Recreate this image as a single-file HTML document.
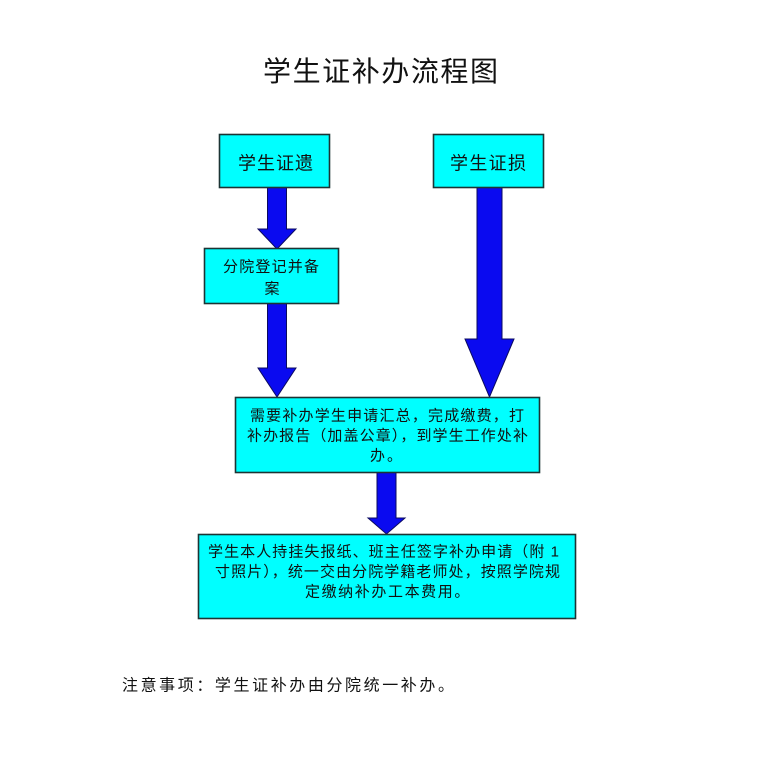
<!DOCTYPE html>
<html>
<head>
<meta charset="utf-8">
<style>
html,body{margin:0;padding:0;background:#fff;}
svg{display:block;}
text{font-family:"Liberation Sans","Noto Sans CJK SC","WenQuanYi Zen Hei",sans-serif;fill:#111;}
</style>
</head>
<body>
<svg width="761" height="757" viewBox="0 0 761 757" xmlns="http://www.w3.org/2000/svg">
<rect x="0" y="0" width="761" height="757" fill="#fff"/>

<!-- Title -->
<text x="263" y="81" font-size="28" textLength="235" lengthAdjust="spacing">学生证补办流程图</text>

<!-- Arrows -->
<g fill="#0a0af0" stroke="#0a0a60" stroke-width="1">
  <polygon points="267.5,187 286.5,187 286.5,229 296,229 277,249 258,229 267.5,229"/>
  <polygon points="267.5,303 286.5,303 286.5,368 296,368 277,397 258,368 267.5,368"/>
  <polygon points="477,187 502,187 502,339 514,339 489.5,397 465,339 477,339"/>
  <polygon points="377,472 396,472 396,518 405,518 386.5,534 368,518 377,518"/>
</g>

<!-- Boxes -->
<g fill="#00ffff" stroke="#1c3434" stroke-width="1.6">
  <rect x="219.5" y="134.5" width="110" height="53"/>
  <rect x="433.5" y="134.5" width="110" height="53"/>
  <rect x="204.5" y="248.5" width="134" height="55"/>
  <rect x="235.5" y="397.5" width="304" height="75"/>
  <rect x="198.5" y="534.5" width="377" height="84"/>
</g>

<!-- Box texts -->
<text x="238" y="169.5" font-size="18" textLength="75" lengthAdjust="spacing">学生证遗</text>
<text x="450" y="169.5" font-size="18" textLength="76" lengthAdjust="spacing">学生证损</text>

<text x="223" y="271.5" font-size="15" textLength="96" lengthAdjust="spacing">分院登记并备</text>
<text x="272" y="293.5" font-size="15" text-anchor="middle">案</text>

<text x="250" y="420.5" font-size="15" textLength="274" lengthAdjust="spacing">需要补办学生申请汇总，完成缴费，打</text>
<text x="247" y="440.5" font-size="15" textLength="281" lengthAdjust="spacing">补办报告（加盖公章），到学生工作处补</text>
<text x="387" y="460.5" font-size="15" text-anchor="middle" letter-spacing="2">办。</text>

<text x="208" y="556.5" font-size="15" textLength="351" lengthAdjust="spacing">学生本人持挂失报纸、班主任签字补办申请（附 1</text>
<text x="215" y="576.5" font-size="15" textLength="345" lengthAdjust="spacing">寸照片），统一交由分院学籍老师处，按照学院规</text>
<text x="388" y="596.5" font-size="15" text-anchor="middle" letter-spacing="1.6">定缴纳补办工本费用。</text>

<!-- Footer note -->
<text x="122" y="690.5" font-size="16" textLength="332" lengthAdjust="spacing">注意事项：学生证补办由分院统一补办。</text>
</svg>
</body>
</html>
